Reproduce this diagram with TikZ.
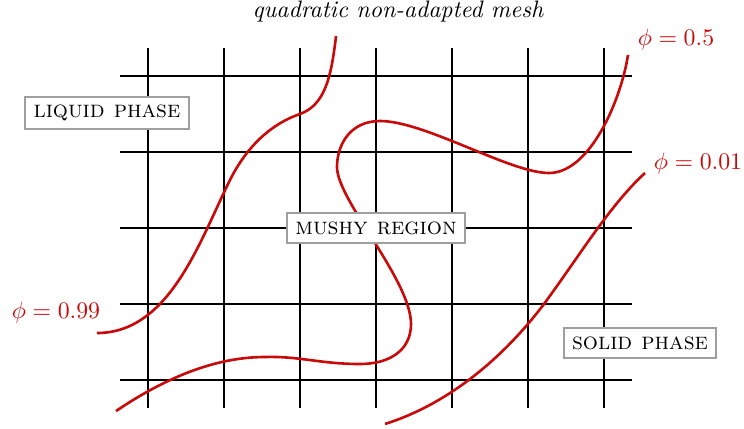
\documentclass[tikz,border=0pt]{standalone}
\begin{document}
\begin{tikzpicture}[x=0.42pt,y=-0.42pt,
  gridline/.style={line width=0.85pt,black},
  curve/.style={line width=1.1pt,color=curvered},
  phaselabel/.style={draw=gray!75,line width=0.8pt,fill=white,inner sep=3.5pt},
  philabel/.style={text=curvered}]
\definecolor{curvered}{RGB}{200,10,10}
\useasboundingbox (0,0) rectangle (744,428);
% grid
\foreach \i in {0,...,6} {
  \draw[gridline] ({148+76*\i},48) -- ({148+76*\i},408);
}
\foreach \j in {0,...,4} {
  \draw[gridline] (120,{76+76*\j}) -- (632,{76+76*\j});
}
% curves
\draw[curve] (97,333) .. controls (170,333) and (200,240) .. (230,180)
  .. controls (245,150) and (268,125) .. (300,114)
  .. controls (324,105) and (331,80) .. (336,36);
\draw[curve] (628,55) .. controls (621,100) and (590,173) .. (549,173)
  .. controls (510,173) and (425,121) .. (380,121)
  .. controls (350,121) and (337,145) .. (337,167)
  .. controls (337,200) and (411,280) .. (411,324)
  .. controls (411,350) and (390,364) .. (360,364)
  .. controls (320,364) and (300,356) .. (265,357)
  .. controls (215,357) and (165,378) .. (116,411);
\draw[curve] (645,173) .. controls (610,205) and (580,255) .. (544,304)
  .. controls (500,362) and (445,405) .. (385,424);
% labels
\node (title) at (398,12) {\itshape quadratic non-adapted mesh};
\node[philabel] (p05) at (676,40) {$\phi = 0.5$};
\node[philabel] (p001) at (698,164) {$\phi = 0.01$};
\node[philabel] (p099) at (56,313) {$\phi = 0.99$};
\node[phaselabel] (liquid) at (107,113) {\textsc{liquid phase}};
\node[phaselabel] (mushy) at (376,228) {\textsc{mushy region}};
\node[phaselabel] (solid) at (640,343) {\textsc{solid phase}};
\end{tikzpicture}
\end{document}
